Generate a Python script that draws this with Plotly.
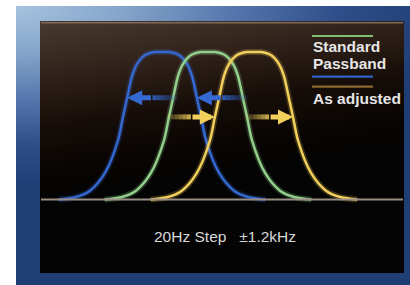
import numpy as np
import plotly.graph_objects as go

# ---------------- data ----------------
# passband shape: frequency offset from band centre (kHz) and relative level
SHAPE_DX = [-2.70, -2.27, -1.88, -1.49, -1.15, -1.02, -0.91, -0.78, -0.65, -0.44, -0.18, 0.0,
            0.18, 0.44, 0.65, 0.78, 0.91, 1.02, 1.15, 1.49, 1.88, 2.27, 2.70]
SHAPE_LEVEL = [0.0, 0.015, 0.06, 0.18, 0.40, 0.56, 0.69, 0.84, 0.92, 0.98, 1.0, 1.0,
               1.0, 0.98, 0.92, 0.84, 0.69, 0.56, 0.40, 0.18, 0.06, 0.015, 0.0]
STEP_KHZ = 1.2
BAND_NAMES = ["Shifted down", "Standard", "Shifted up"]
BAND_CENTERS = [-1.2, 0.0, 1.2]
BAND_COLORS = ["#3569d2", "#92d08c", "#f3cf5c"]
ARROW_LEVELS = {"down": 0.69, "up": 0.56}
LEGEND_LABELS = ["Standard", "Passband", "As adjusted"]
CAPTION = "20Hz Step \u00a0\u00a0\u00b11.2kHz"

W, H = 410, 285
PANEL = (41, 22, 403, 272)  # x0, y0, x1, y1 in px
BASE_Y = 199.5
TOP_Y = 52.0
PX_PER_KHZ = 38.3
CENTER_PX = 208.0

fig = go.Figure()

# ---------------- background (pixel axes x/y) ----------------
fx = np.arange(17, W + 1, 2.0)
fy = np.arange(7, H + 1, 2.0)
FX, FY = np.meshgrid(fx, fy)
fz = np.sqrt(((FX - 17) / 330.0) ** 2 + ((FY - 7) / 140.0) ** 2)
fig.add_trace(go.Heatmap(
    x=fx, y=fy, z=fz, zsmooth="best", showscale=False, hoverinfo="skip",
    zmin=0, zmax=1.3,
    colorscale=[[0, "#a6c2de"], [0.25, "#85a4ca"], [0.5, "#5577ad"],
                [0.75, "#2d4e88"], [1, "#1f3e74"]],
    xaxis="x", yaxis="y"))

px_ = np.arange(PANEL[0], PANEL[2] + 1, 2.0)
py_ = np.arange(PANEL[1], PANEL[3] + 1, 2.0)
PX, PY = np.meshgrid(px_, py_)
pz = (PY - PANEL[1]) / 160.0 + (PX - PANEL[0]) / 1100.0
pz = np.where(PY > BASE_Y, 1.2, pz)
fig.add_trace(go.Heatmap(
    x=px_, y=py_, z=pz, zsmooth="best", showscale=False, hoverinfo="skip",
    zmin=0, zmax=1.2,
    colorscale=[[0, "#48392f"], [0.3, "#2f2119"], [0.55, "#160d08"],
                [0.8, "#070403"], [1, "#040404"]],
    xaxis="x", yaxis="y"))

# ---------------- curves (kHz axes x2/y2) ----------------
dx = np.array(SHAPE_DX)
lv = np.array(SHAPE_LEVEL)


def rgba(hexc, a):
    h = hexc.lstrip("#")
    return "rgba(%d,%d,%d,%.2f)" % (int(h[0:2], 16), int(h[2:4], 16), int(h[4:6], 16), a)


for name, c, col in zip(BAND_NAMES, BAND_CENTERS, BAND_COLORS):
    fig.add_trace(go.Scatter(x=c + dx, y=lv, mode="lines", hoverinfo="skip",
                             line=dict(color=rgba(col, 0.22), width=6, shape="spline", smoothing=0.8),
                             xaxis="x2", yaxis="y2", showlegend=False))
    fig.add_trace(go.Scatter(x=c + dx, y=lv, mode="lines", name=name,
                             line=dict(color=col, width=2.5, shape="spline", smoothing=0.8),
                             xaxis="x2", yaxis="y2", showlegend=False))

# half-width of the passband at a given level
half = dx[: len(dx) // 2 + 1]
hlev = lv[: len(lv) // 2 + 1]


def halfwidth(level):
    return -np.interp(level, hlev, half)


std_c = BAND_CENTERS[1]
arrows = []
for direction, target_c, col in [("down", BAND_CENTERS[0], BAND_COLORS[0]),
                                 ("up", BAND_CENTERS[2], BAND_COLORS[2])]:
    lev = ARROW_LEVELS[direction]
    hw = halfwidth(lev)
    for side in (-1, 1):
        tail = std_c + side * hw
        head = target_c + side * hw
        if direction == "down":
            tail += 0.12
        else:
            tail -= 0.05
        arrows.append((tail, head, lev, col))

for tail, head, lev, col in arrows:
    n = 6
    mid = tail + (head - tail) * 0.5
    seg = np.linspace(tail, mid, n + 1)
    for i in range(n):
        fig.add_trace(go.Scatter(x=[seg[i], seg[i + 1]], y=[lev, lev], mode="lines",
                                 hoverinfo="skip", showlegend=False,
                                 line=dict(color=rgba(col, 0.15 + 0.75 * i / n), width=5),
                                 xaxis="x2", yaxis="y2"))
    fig.add_annotation(x=head, y=lev, ax=mid, ay=lev, xref="x2", yref="y2",
                       axref="x2", ayref="y2", showarrow=True, arrowhead=2,
                       arrowsize=0.6, arrowwidth=5, arrowcolor=col, text="", standoff=0)

# ---------------- decorations ----------------
shapes = [
    dict(type="line", xref="x", yref="y", x0=PANEL[0], x1=PANEL[2], y0=PANEL[1] + 0.8, y1=PANEL[1] + 0.8,
         line=dict(color="#7e6a5a", width=1.6)),
    dict(type="line", xref="x2 domain", yref="y2", x0=0, x1=1, y0=0, y1=0,
         line=dict(color="#9a8d84", width=2)),
    dict(type="line", xref="x", yref="y", x0=312, x1=373, y0=36, y1=36,
         line=dict(color="#7fbf72", width=2)),
    dict(type="line", xref="x", yref="y", x0=312, x1=373, y0=76.7, y1=76.7,
         line=dict(color="#2f62c6", width=2.2)),
    dict(type="line", xref="x", yref="y", x0=312, x1=373, y0=86.7, y1=86.7,
         line=dict(color="#8a6a32", width=2.2)),
]
fig.update_layout(shapes=shapes)

legend_font = dict(family="Liberation Sans, Arial", size=15.5, color="#e6e6e6", weight="bold")
for label, ly in zip(LEGEND_LABELS, [46.5, 63.5, 98.5]):
    fig.add_annotation(x=311, y=ly, xref="x", yref="y", text=label, showarrow=False,
                       xanchor="left", yanchor="middle", align="left", font=legend_font)
fig.add_annotation(x=224.5, y=236, xref="x", yref="y", text=CAPTION, showarrow=False,
                   xanchor="center", yanchor="middle",
                   font=dict(family="Liberation Sans, Arial", size=15.5, color="#d8d8d8"))

# ---------------- axes ----------------
x_lo = (PANEL[0] - CENTER_PX) / PX_PER_KHZ
x_hi = (PANEL[2] - CENTER_PX) / PX_PER_KHZ
lvl_px = BASE_Y - TOP_Y
y_lo = -(PANEL[3] - BASE_Y) / lvl_px
y_hi = (BASE_Y - PANEL[1]) / lvl_px

fig.update_layout(
    width=W, height=H, autosize=False,
    margin=dict(l=0, r=0, t=0, b=0, pad=0),
    paper_bgcolor="white", plot_bgcolor="rgba(0,0,0,0)",
    showlegend=False,
    xaxis=dict(range=[0, W], domain=[0, 1], visible=False, fixedrange=True),
    yaxis=dict(range=[H, 0], domain=[0, 1], visible=False, fixedrange=True),
    xaxis2=dict(range=[x_lo, x_hi], domain=[PANEL[0] / W, PANEL[2] / W], anchor="y2",
                visible=False, fixedrange=True),
    yaxis2=dict(range=[y_lo, y_hi], domain=[(H - PANEL[3]) / H, (H - PANEL[1]) / H], anchor="x2",
                visible=False, fixedrange=True),
)

fig.write_html("out.html", config={"displayModeBar": False},
               post_script="document.body.style.margin='0';")
